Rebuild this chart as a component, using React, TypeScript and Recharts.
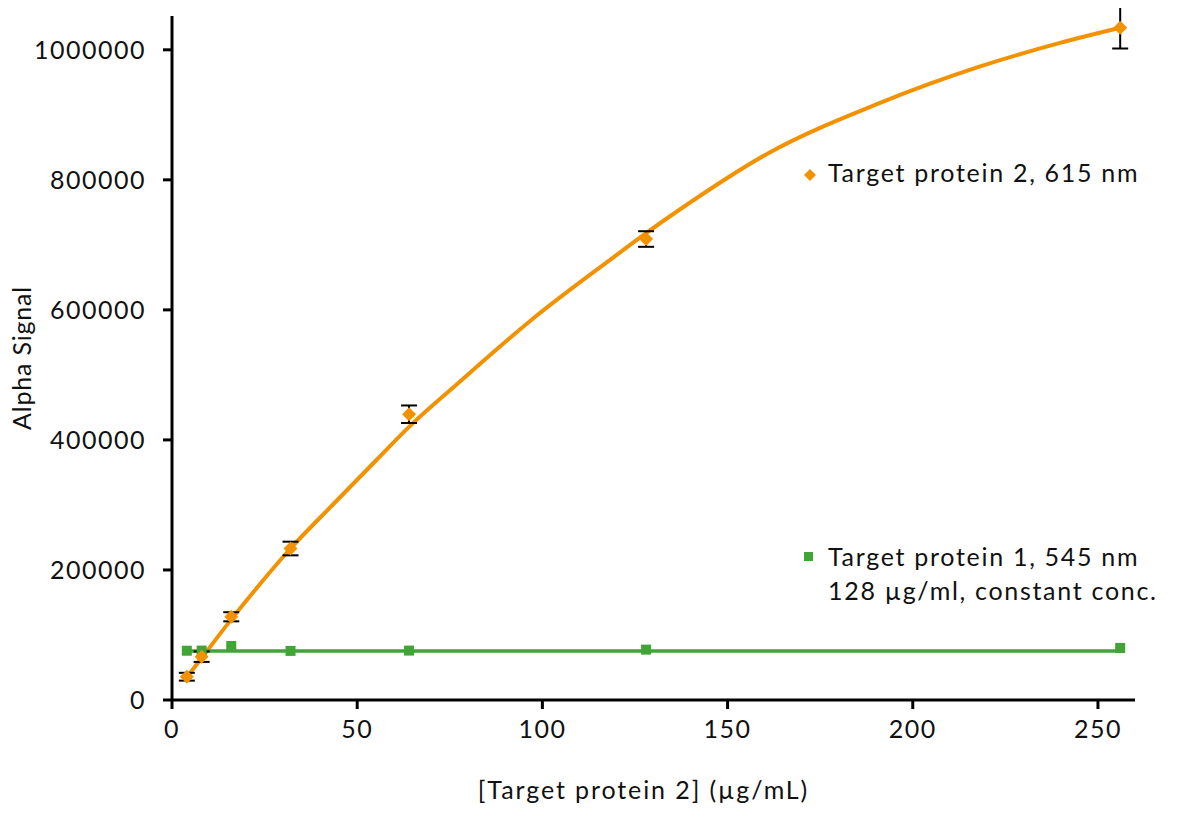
import React from 'react';
import { ComposedChart, Line, Scatter, XAxis, YAxis, ErrorBar, Legend } from 'recharts';

// measured concentrations of target protein 2 (µg/mL)
const conc = [4, 8, 16, 32, 64, 128, 256];
// target protein 2, 615 nm
const protein2 = [35800, 66600, 128000, 233000, 439500, 709000, 1034000];
const protein2Err = [6000, 8000, 7000, 10500, 13500, 12000, 32000];
// target protein 1, 545 nm (constant conc.)
const protein1 = [75800, 76000, 83000, 75500, 76000, 77500, 80000];

// fitted curves
const fit2X = [4, 8, 16, 24, 32, 43, 55, 64, 77, 98, 119, 128, 137, 161, 191, 218, 240, 256];
const fit2Y = [35000, 64600, 124000, 180000, 233000, 298000, 368000, 420000, 486000, 589000, 680000, 718000, 754000, 841000, 918000, 974000, 1011000, 1034000];
const fit1X = [4, 256];
const fit1Y = [75500, 75500];

const xTicks = [0, 50, 100, 150, 200, 250];
const yTicks = [0, 200000, 400000, 600000, 800000, 1000000];

const ORANGE = '#F39200';
const GREEN = '#3FA535';
const FONT = 'Lato, "Open Sans", sans-serif';

const pts2 = conc.map((x, i) => ({ x, y: protein2[i], err: protein2Err[i] }));
const pts1 = conc.map((x, i) => ({ x, y: protein1[i] }));
const fit2 = fit2X.map((x, i) => ({ x, y: fit2Y[i] }));
const fit1 = fit1X.map((x, i) => ({ x, y: fit1Y[i] }));

const Diamond = (props: any) => {
  const { cx, cy } = props;
  const r = 7;
  return <polygon points={`${cx},${cy - r} ${cx + r},${cy} ${cx},${cy + r} ${cx - r},${cy}`} fill={ORANGE} />;
};

const Square = (props: any) => {
  const { cx, cy } = props;
  const s = 10;
  return <rect x={cx - s / 2} y={cy - s / 2} width={s} height={s} fill={GREEN} />;
};

const Nothing = () => <g />;

const legendText: React.CSSProperties = {
  position: 'absolute',
  fontFamily: FONT,
  fontSize: 25,
  color: '#111',
  whiteSpace: 'nowrap',
  letterSpacing: 1.7,
  lineHeight: '34px',
};

const LegendBox = () => (
  <div style={{ position: 'relative', width: 1184, height: 806 }}>
    <svg width={12} height={12} style={{ position: 'absolute', left: 796, top: 161 }}>
      <polygon points="6,0 12,6 6,12 0,6" fill={ORANGE} />
    </svg>
    <div style={{ ...legendText, left: 820, top: 147 }}>Target protein 2, 615 nm</div>
    <svg width={9} height={9} style={{ position: 'absolute', left: 796, top: 544 }}>
      <rect width={9} height={9} fill={GREEN} />
    </svg>
    <div style={{ ...legendText, left: 820, top: 531 }}>
      Target protein 1, 545 nm
      <br />
      128 µg/ml, constant conc.
    </div>
  </div>
);

const tickStyle = { fontFamily: FONT, fontSize: 25, fill: '#111', letterSpacing: 1.5 };

export default function App() {
  return (
    <ComposedChart
      width={1184}
      height={806}
      margin={{ top: 8, right: 57, left: 0, bottom: 0 }}
      style={{ fontFamily: FONT }}
    >
      <XAxis
        dataKey="x"
        type="number"
        domain={[0, 260]}
        ticks={xTicks}
        allowDataOverflow
        height={114}
        tickSize={9}
        tickMargin={11}
        axisLine={{ stroke: '#000', strokeWidth: 3 }}
        tickLine={{ stroke: '#000', strokeWidth: 3 }}
        tick={tickStyle}
        label={{
          value: '[Target protein 2] (µg/mL)',
          position: 'insideBottom',
          offset: 15,
          dx: -10,
          style: { fontFamily: FONT, fontSize: 25, fill: '#111', letterSpacing: 1.9 },
        }}
      />
      <YAxis
        type="number"
        domain={[0, 1052000]}
        ticks={yTicks}
        allowDataOverflow
        width={164}
        tickSize={9}
        tickMargin={17}
        axisLine={{ stroke: '#000', strokeWidth: 3 }}
        tickLine={{ stroke: '#000', strokeWidth: 3 }}
        tick={tickStyle}
        label={{
          value: 'Alpha Signal',
          angle: -90,
          position: 'insideLeft',
          offset: 14,
          style: { fontFamily: FONT, fontSize: 25, fill: '#111', textAnchor: 'middle', letterSpacing: 0.8 },
        }}
      />
      <Line
        data={fit2}
        dataKey="y"
        type="monotone"
        stroke={ORANGE}
        strokeWidth={4}
        dot={false}
        activeDot={false}
        isAnimationActive={false}
      />
      <Line
        data={fit1}
        dataKey="y"
        type="linear"
        stroke={GREEN}
        strokeWidth={3.5}
        dot={false}
        activeDot={false}
        isAnimationActive={false}
      />
      <Scatter data={pts1} dataKey="y" shape={<Square />} isAnimationActive={false} />
      <Scatter data={pts2} dataKey="y" shape={<Nothing />} isAnimationActive={false}>
        <ErrorBar dataKey="err" direction="y" width={8} stroke="#000" strokeWidth={2} />
      </Scatter>
      <Scatter data={pts2} dataKey="y" shape={<Diamond />} isAnimationActive={false} />
      <Legend
        layout="vertical"
        align="center"
        verticalAlign="middle"
        wrapperStyle={{ left: 0, top: 0, width: 1184, height: 806, pointerEvents: 'none' }}
        content={() => <LegendBox />}
      />
    </ComposedChart>
  );
}
